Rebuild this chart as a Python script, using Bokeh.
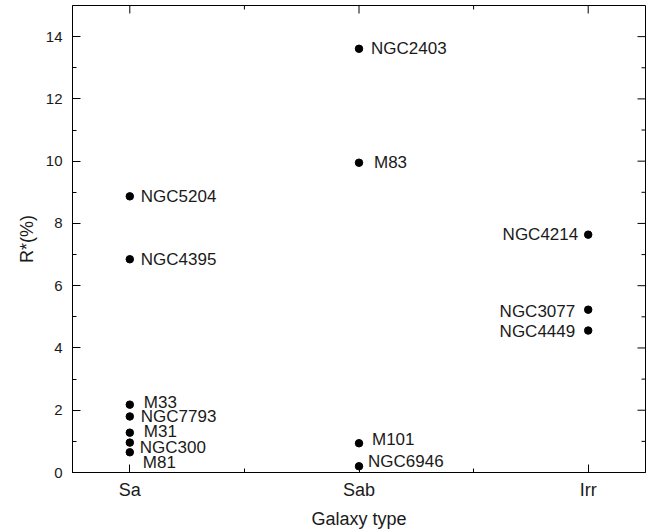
from bokeh.plotting import figure
from bokeh.models import FixedTicker, Range1d, ColumnDataSource
from bokeh.core.properties import value
from bokeh.embed import file_html
from bokeh.resources import INLINE

# ---- data ----
categories = ["Sa", "Sab", "Irr"]
names = ["NGC5204", "NGC4395", "M33", "NGC7793", "M31", "NGC300", "M81",
         "NGC2403", "M83", "M101", "NGC6946",
         "NGC4214", "NGC3077", "NGC4449"]
types = ["Sa", "Sa", "Sa", "Sa", "Sa", "Sa", "Sa",
         "Sab", "Sab", "Sab", "Sab",
         "Irr", "Irr", "Irr"]
r_values = [8.87, 6.85, 2.18, 1.80, 1.28, 0.96, 0.65,
            13.61, 9.95, 0.94, 0.20,
            7.64, 5.23, 4.56]
y_major = [0, 2, 4, 6, 8, 10, 12, 14]
y_minor = [1, 3, 5, 7, 9, 11, 13]
x_minor = [0.5, 1.5]

# label placement (screen pixels)
label_dx = [11, 11, 14, 11, 14, 10, 13, 12, 15, 13, 9, -10, -13, -13]
label_dy = [0, 0, -2, 0, -1, 5, 10, 0, 0, -4, -5, 0, 2, 1]
label_align = ["left"] * 11 + ["right"] * 3

FONT = "Liberation Sans"
TXT = "#1a1a1a"
X0, X1, Y0, Y1 = -0.25, 2.25, 0, 15

xs = [categories.index(t) for t in types]
x_major = list(range(len(categories)))
src = ColumnDataSource(dict(x=xs, y=r_values, name=names, dx=label_dx, dy=label_dy, align=label_align))

p = figure(width=649, height=532, output_backend="svg", toolbar_location=None,
           x_range=Range1d(X0, X1), y_range=Range1d(Y0, Y1),
           min_border_left=72, min_border_right=4, min_border_top=5, min_border_bottom=60,
           x_axis_label="Galaxy type", y_axis_label="R*(%)")
p.grid.visible = False
p.outline_line_color = "black"
p.outline_line_width = 1
p.background_fill_color = "white"
p.border_fill_color = "white"

def style(ax, ticker):
    ax.ticker = ticker
    ax.axis_line_color = "black"
    ax.axis_line_width = 1
    ax.major_tick_in = 8
    ax.major_tick_out = 0
    ax.minor_tick_in = 4
    ax.minor_tick_out = 0
    ax.major_tick_line_color = "black"
    ax.minor_tick_line_color = "black"
    ax.major_label_text_font = FONT
    ax.major_label_text_color = TXT
    ax.axis_label_text_font = FONT
    ax.axis_label_text_font_style = "normal"
    ax.axis_label_text_color = TXT
    ax.axis_label_text_font_size = "18px"

xa = p.xaxis[0]
style(xa, FixedTicker(ticks=x_major, minor_ticks=x_minor))
xa.major_label_overrides = {i: c for i, c in enumerate(categories)}
xa.major_label_text_font_size = "18px"
xa.major_label_standoff = 7
xa.axis_label_standoff = 6

ya = p.yaxis[0]
style(ya, FixedTicker(ticks=y_major, minor_ticks=y_minor))
ya.major_label_text_font_size = "15px"
ya.major_label_standoff = 10
ya.axis_label_standoff = 6

# mirrored inward ticks on top and right edges
p.ray(x=x_major, y=[Y1] * len(x_major), length=8, angle=-90, angle_units="deg",
      length_units="screen", line_color="black", line_width=1)
p.ray(x=x_minor, y=[Y1] * len(x_minor), length=4, angle=-90, angle_units="deg",
      length_units="screen", line_color="black", line_width=1)
p.ray(x=[X1] * len(y_major), y=y_major, length=8, angle=180, angle_units="deg",
      length_units="screen", line_color="black", line_width=1)
p.ray(x=[X1] * len(y_minor), y=y_minor, length=4, angle=180, angle_units="deg",
      length_units="screen", line_color="black", line_width=1)

p.scatter("x", "y", source=src, size=7.5, color="black")
p.text("x", "y", text="name", source=src, x_offset="dx", y_offset="dy",
       text_align="align", text_baseline="middle",
       text_font=value(FONT), text_font_size="17px", text_color=TXT)

open("out.html", "w").write(file_html(p, INLINE))
